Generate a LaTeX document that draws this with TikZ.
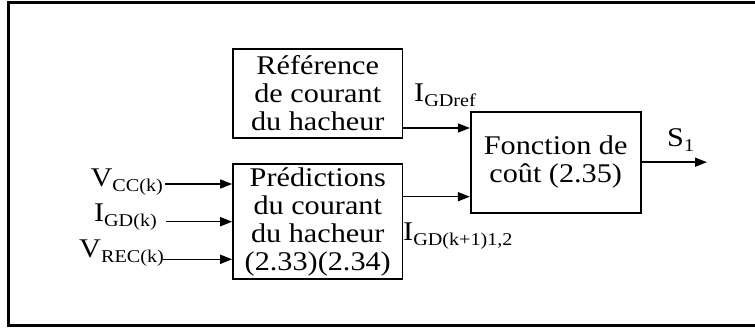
\documentclass[tikz,border=0pt]{standalone}
\usepackage{fontspec}
\setmainfont[FakeStretch=1.12]{Liberation Serif}
\usetikzlibrary{arrows.meta}
% signal name with a lowered, smaller index
\newcommand\sig[2]{#1\raisebox{-5.5pt}{\fontsize{18}{18}\selectfont #2}}
\begin{document}
\begin{tikzpicture}[x=1pt,y=-1pt,
  blk/.style={draw, line width=1.6pt, minimum width=169.5pt, inner sep=0pt,
    align=center, font=\fontsize{27}{28}\selectfont},
  sigline/.style={line width=1.5pt, -{Triangle[length=12pt,width=9pt]}},
  lab/.style={inner sep=0pt, font=\fontsize{27}{28}\selectfont}]
\useasboundingbox (0,0) rectangle (755,329);
% outer frame
\draw[line width=2.8pt] (8.5,2.5) rectangle (775,325.5);

% blocks
\node[blk, minimum height=89pt] (ref) at (317.75,93.5)
  {Référence\\de courant\\du hacheur};
\node[blk, minimum height=115pt] (pred) at (317.75,221.5)
  {Prédictions\\du courant\\du hacheur\\(2.33)(2.34)};
\node[blk, minimum width=170pt, minimum height=101pt] (fon) at (555.7,162.2)
  {Fonction de\\coût (2.35)};

% signal heights and free ends
\coordinate (hA) at (0,128);
\coordinate (hB) at (0,196.7);
\coordinate (out) at (707,162.2);
\coordinate (vcc) at (165,184);
\coordinate (igd) at (166,221.7);
\coordinate (vrec) at (163,259.3);

% connectors
\draw[sigline] (ref.east |- hA) -- (fon.west |- hA);
\draw[sigline] (pred.east |- hB) -- (fon.west |- hB);
\draw[sigline] (fon.east) -- (out);
\draw[sigline] (vcc) -- (pred.west |- vcc);
\draw[sigline] (igd) -- (pred.west |- igd);
\draw[sigline] (vrec) -- (pred.west |- vrec);

% signal labels
\node[lab, anchor=base east] (lvcc) at (163,186) {\sig{V}{CC(k)}};
\node[lab, anchor=base east] (ligd) at (157,221) {\sig{I}{GD(k)}};
\node[lab, anchor=base east] (lvrec) at (164,257) {\sig{V}{REC(k)}};
\node[lab, anchor=base west] (lref) at (414,101) {\sig{I}{GDref}};
\node[lab, anchor=base west] (lpred) at (403,240) {\sig{I}{GD(k+1)1,2}};
\node[lab, anchor=base west] (ls) at (667,146) {\sig{S}{1}};
\end{tikzpicture}
\end{document}
